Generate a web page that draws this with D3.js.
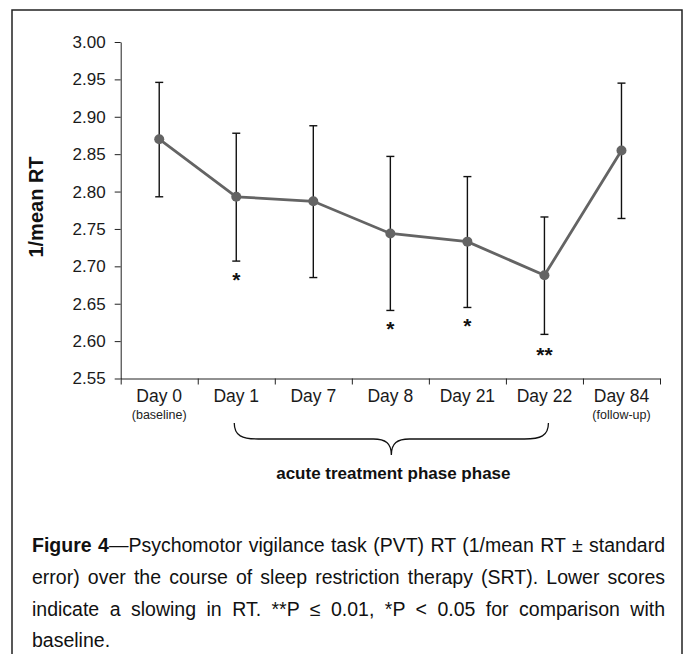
<!DOCTYPE html>
<html lang="en">
<head>
  <meta charset="UTF-8">
  <title>Figure 4 - PVT RT</title>
  <script src="https://cdn.jsdelivr.net/npm/d3@7"></script>
  <style>
    body { margin: 0; background: #fff; }
    svg { display: block; font-family: "Liberation Sans", Arial, sans-serif; }
  </style>
</head>
<body>
  <svg id="chart" width="687" height="654"></svg>

  <script>
    // data
    const categories = ["Day 0", "Day 1", "Day 7", "Day 8", "Day 21", "Day 22", "Day 84"];
    const subLabels  = ["(baseline)", "", "", "", "", "", "(follow-up)"];
    const means      = [2.870, 2.793, 2.787, 2.744, 2.733, 2.688, 2.855];
    const upper      = [2.946, 2.878, 2.888, 2.847, 2.820, 2.766, 2.945];
    const lower      = [2.793, 2.707, 2.685, 2.641, 2.645, 2.609, 2.764];
    const stars      = ["", "*", "", "*", "*", "**", ""];
    const yTicks     = [2.55, 2.60, 2.65, 2.70, 2.75, 2.80, 2.85, 2.90, 2.95, 3.00];
    const braceLabel = "acute treatment phase phase";
    const yTitle     = "1/mean RT";
    const captionLines = [
      [["Figure 4", true], ["\u2014Psychomotor vigilance task (PVT) RT (1/mean RT \u00b1 standard", false]],
      [["error) over the course of sleep restriction therapy (SRT). Lower scores", false]],
      [["indicate a slowing in RT. **P \u2264 0.01, *P < 0.05 for comparison with", false]],
      [["baseline.", false]]
    ];

    const svg = d3.select("#chart");

    const plotL = 120.7, plotR = 660, plotT = 42, plotB = 378.5;

    const x = d3.scaleBand().domain(categories).range([plotL, plotR]);
    const xEdge = d3.scaleLinear().domain([0, categories.length]).range([plotL, plotR]);
    const y = d3.scaleLinear().domain([2.55, 3.00]).range([plotB, plotT]);
    const cx = d => x(d) + x.bandwidth() / 2;

    // frame
    svg.append("rect")
      .attr("x", 12).attr("y", 10)
      .attr("width", 670).attr("height", 700)
      .attr("fill", "none").attr("stroke", "#222").attr("stroke-width", 1.5);

    // y axis
    const yAxis = svg.append("g")
      .attr("transform", `translate(${plotL},0)`)
      .call(d3.axisLeft(y).tickValues(yTicks).tickFormat(d3.format(".2f"))
        .tickSize(6).tickSizeOuter(0).tickPadding(9));
    yAxis.attr("font-family", null);
    yAxis.selectAll("text").attr("font-size", 17).attr("fill", "#1a1a1a");
    yAxis.selectAll("line, path").attr("stroke", "#222");

    // x axis (ticks at band edges)
    const xAxis = svg.append("g")
      .attr("transform", `translate(0,${plotB})`)
      .call(d3.axisBottom(xEdge).tickValues(d3.range(categories.length + 1))
        .tickFormat("").tickSize(6).tickSizeOuter(0));
    xAxis.selectAll("line, path").attr("stroke", "#222");

    svg.selectAll(".xlab")
      .data(categories)
      .join("text")
      .attr("class", "xlab")
      .attr("x", d => cx(d)).attr("y", 402)
      .attr("text-anchor", "middle")
      .attr("font-size", 17.5).attr("fill", "#1a1a1a")
      .text(d => d);

    svg.selectAll(".xsub")
      .data(categories)
      .join("text")
      .attr("class", "xsub")
      .attr("x", d => cx(d)).attr("y", 419)
      .attr("text-anchor", "middle")
      .attr("font-size", 12.5).attr("fill", "#222")
      .text((d, i) => subLabels[i]);

    // y title
    svg.append("text")
      .attr("transform", "translate(43,207) rotate(-90)")
      .attr("text-anchor", "middle")
      .attr("font-size", 20).attr("font-weight", "bold").attr("fill", "#111")
      .text(yTitle);

    // error bars
    const bars = svg.append("g").attr("stroke", "#111").attr("stroke-width", 1.4);
    categories.forEach((c, i) => {
      const px = cx(c);
      bars.append("line").attr("x1", px).attr("x2", px)
        .attr("y1", y(upper[i])).attr("y2", y(lower[i]));
      [upper[i], lower[i]].forEach(v => {
        bars.append("line").attr("x1", px - 4).attr("x2", px + 4)
          .attr("y1", y(v)).attr("y2", y(v));
      });
    });

    // mean line + markers
    const line = d3.line().x((d, i) => cx(categories[i])).y(d => y(d));
    svg.append("path")
      .datum(means)
      .attr("d", line)
      .attr("fill", "none").attr("stroke", "#646464").attr("stroke-width", 2.8);

    svg.selectAll(".dot")
      .data(means)
      .join("circle")
      .attr("class", "dot")
      .attr("cx", (d, i) => cx(categories[i]))
      .attr("cy", d => y(d))
      .attr("r", 5)
      .attr("fill", "#646464");

    // significance stars
    svg.selectAll(".star")
      .data(stars)
      .join("text")
      .attr("class", "star")
      .attr("x", (d, i) => cx(categories[i]))
      .attr("y", (d, i) => y(lower[i]) + (d.length > 1 ? 28 : 26))
      .attr("text-anchor", "middle")
      .attr("font-size", 21).attr("font-weight", "bold").attr("fill", "#111")
      .text(d => d);

    // brace under the acute treatment phase
    const bx1 = cx("Day 1") - 2, bx2 = cx("Day 22") + 4, bm = (bx1 + bx2) / 2;
    const bt = 423, bh = 439, bc = 455;
    svg.append("path")
      .attr("d", `M${bx1},${bt} C${bx1},${bt + 13} ${bx1 + 8},${bh} ${bx1 + 24},${bh}
                  L${bm - 18},${bh} C${bm - 6},${bh} ${bm},${bh + 4} ${bm},${bc}
                  C${bm},${bh + 4} ${bm + 6},${bh} ${bm + 18},${bh}
                  L${bx2 - 24},${bh} C${bx2 - 8},${bh} ${bx2},${bt + 13} ${bx2},${bt}`)
      .attr("fill", "none").attr("stroke", "#111").attr("stroke-width", 1.3);

    svg.append("text")
      .attr("x", bm + 2).attr("y", 479)
      .attr("text-anchor", "middle")
      .attr("font-size", 17).attr("font-weight", "bold").attr("fill", "#111")
      .text(braceLabel);

    // caption, justified
    const capLeft = 32, capRight = 665, capY = 552, capStep = 31.8;
    captionLines.forEach((segs, i) => {
      const t = svg.append("text")
        .attr("x", capLeft).attr("y", capY + i * capStep)
        .attr("font-size", 19.5).attr("fill", "#111")
        .attr("xml:space", "preserve");
      segs.forEach(([s, b]) => {
        t.append("tspan").attr("font-weight", b ? "bold" : null).text(s);
      });
      if (i < captionLines.length - 1) {
        const full = segs.map(s => s[0]).join("");
        const gaps = full.split(" ").length - 1;
        const natural = t.node().getComputedTextLength();
        t.style("word-spacing", ((capRight - capLeft - natural) / gaps) + "px");
      }
    });
  </script>
</body>
</html>
